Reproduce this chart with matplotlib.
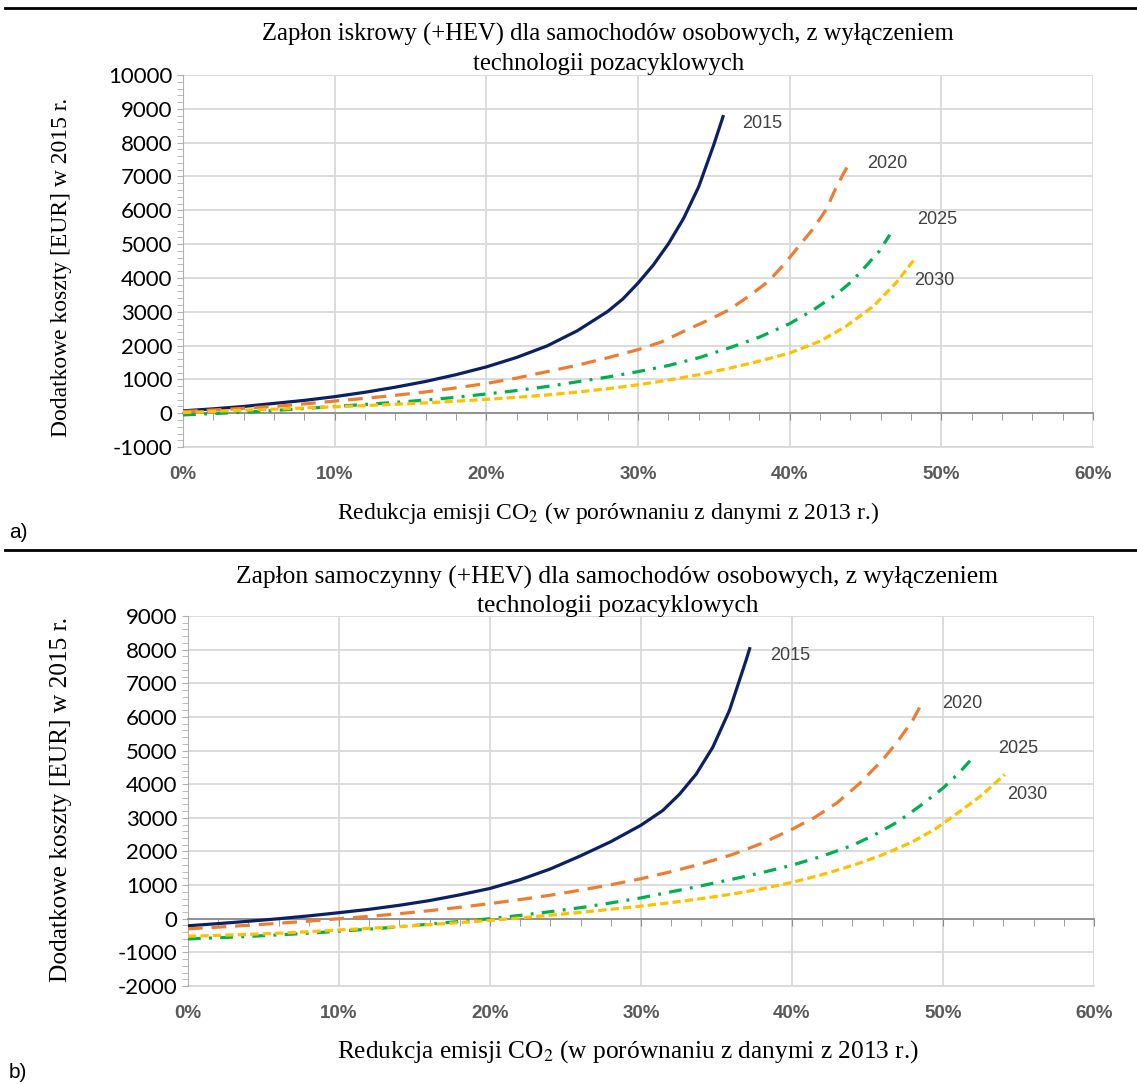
import matplotlib
matplotlib.use("Agg")
import matplotlib.pyplot as plt
from matplotlib.lines import Line2D
from matplotlib.ticker import MultipleLocator, FixedLocator, PercentFormatter

# --- DATEN ---
YEARS = ["2015", "2020", "2025", "2030"]

# a) Zapłon iskrowy
A_X_2015 = [0, 2, 4, 6, 8, 10, 12, 14, 16, 18, 20, 22, 24, 26, 28, 29, 30, 31, 32, 33, 34, 35, 35.6]
A_Y_2015 = [70, 130, 200, 290, 380, 490, 620, 770, 940, 1140, 1370, 1650, 1990, 2440, 3010, 3380,
            3850, 4380, 5010, 5760, 6700, 7950, 8770]
A_X_2020 = [0, 2, 4, 6, 8, 10, 12, 14, 16, 18, 20, 22, 24, 26, 28, 30, 31.5, 33, 34.9, 36, 37.3,
            38.6, 39.7, 40.6, 41.5, 42.4, 43.0, 43.5, 44.0]
A_Y_2020 = [50, 95, 145, 200, 275, 360, 440, 530, 630, 750, 880, 1040, 1230, 1420, 1640, 1880, 2100,
            2420, 2810, 3060, 3460, 3900, 4440, 4940, 5430, 6020, 6620, 7050, 7450]
A_X_2025 = [0, 2, 4, 6, 8, 10, 12, 14, 16, 18, 20, 22, 24, 26, 28, 30, 32, 34, 36, 38, 40, 41.5,
            43, 44.1, 45.1, 45.9, 46.6]
A_Y_2025 = [-50, -10, 30, 80, 140, 200, 260, 320, 390, 470, 570, 670, 790, 930, 1070, 1230, 1410,
            1640, 1930, 2250, 2650, 3040, 3490, 3900, 4390, 4790, 5280]
A_X_2030 = [0, 2, 4, 6, 8, 10, 12, 14, 16, 18, 20, 22, 24, 26, 28, 30, 32, 34, 36, 38, 40, 42,
            43.7, 45.5, 47, 48.2]
A_Y_2030 = [20, 55, 90, 120, 155, 190, 225, 265, 305, 355, 410, 470, 540, 625, 725, 840, 980, 1140,
            1330, 1540, 1780, 2130, 2570, 3160, 3850, 4540]
A_LABEL_X = [38.2, 46.4, 49.7, 49.5]
A_LABEL_Y = [8580, 7390, 5730, 3920]

# b) Zapłon samoczynny
B_X_2015 = [0, 2, 4, 6, 8, 10, 12, 14, 16, 18, 20, 22, 24, 26, 28, 30, 31.45, 32.55, 33.66,
            34.76, 35.86, 36.96, 37.2]
B_Y_2015 = [-210, -145, -75, 0, 85, 180, 280, 400, 540, 710, 900, 1160, 1480, 1870, 2290, 2780,
            3220, 3700, 4300, 5100, 6190, 7680, 8030]
B_X_2020 = [0, 2, 4, 6, 8, 10, 12, 14, 16, 18, 20, 22, 24, 26, 28, 30, 32, 34, 36, 38, 40, 41.5,
            43, 44.5, 46, 47, 48, 48.7]
B_Y_2020 = [-300, -250, -195, -135, -70, 0, 70, 150, 240, 340, 450, 570, 700, 850, 1010, 1190, 1400,
            1630, 1900, 2240, 2660, 3010, 3450, 4030, 4720, 5270, 5900, 6490]
B_X_2025 = [0, 2, 4, 6, 8, 10, 12, 14, 16, 18, 20, 22, 24, 26, 28, 30, 32, 34, 36, 38, 40, 42, 44,
            45.5, 47, 48.5, 50, 51.1, 52.1]
B_Y_2025 = [-600, -565, -525, -480, -430, -370, -310, -240, -160, -80, 0, 100, 210, 330, 470, 620,
            800, 980, 1170, 1370, 1590, 1860, 2180, 2500, 2880, 3360, 3880, 4350, 4850]
B_X_2030 = [0, 2, 4, 6, 8, 10, 12, 14, 16, 18, 20, 22, 24, 26, 28, 30, 32, 34, 36, 38, 40, 42, 44,
            46, 48, 49.5, 51, 52.5, 54.1]
B_Y_2030 = [-520, -495, -465, -430, -385, -335, -285, -235, -175, -115, -50, 25, 105, 190, 280, 375,
            480, 600, 730, 890, 1080, 1310, 1580, 1900, 2290, 2670, 3150, 3650, 4290]
B_LABEL_X = [39.9, 51.3, 55.0, 55.6]
B_LABEL_Y = [7830, 6400, 5060, 3690]

X_TICKS = [0, 10, 20, 30, 40, 50, 60]

TITLE_A = "Zapłon iskrowy (+HEV) dla samochodów osobowych, z wyłączeniem\ntechnologii pozacyklowych"
TITLE_B = "Zapłon samoczynny (+HEV) dla samochodów osobowych, z wyłączeniem\ntechnologii pozacyklowych"
XLABEL = "Redukcja emisji CO$_2$ (w porównaniu z danymi z 2013 r.)"
YLABEL = "Dodatkowe koszty [EUR] w 2015 r."

# --- STYLE ---
COLORS = ["#0b2163", "#ed7d31", "#00b050", "#ffc000"]
STYLES = ["-", (0, (4.6, 2.8)), (0, (4.0, 2.6, 0.9, 2.6)), (0, (2.6, 1.3))]
GRID_COLOR = "#d9d9d9"
SERIF = "Liberation Serif"
SANS = "Liberation Sans"
TICK_FONT = "Lato"

plt.rcParams["mathtext.fontset"] = "stix"
plt.rcParams["axes.unicode_minus"] = False


def draw_panel(fig, rect, xs, ys, lab_x, lab_y, ylim, title, title_pos, xlabel_pos, ylabel_pos,
               fsz_title, fsz_label):
    ax = fig.add_axes(rect)
    for x, y, c, ls in zip(xs, ys, COLORS, STYLES):
        ax.plot(x, y, color=c, linestyle=ls, linewidth=2.3, zorder=3)
    for x, y, yr in zip(lab_x, lab_y, YEARS):
        ax.text(x, y, yr, fontsize=13, color="#404040", family=SANS, ha="center", va="center")

    ax.set_xlim(0, 60)
    ax.set_ylim(*ylim)
    ax.xaxis.set_major_locator(FixedLocator(X_TICKS))
    ax.xaxis.set_minor_locator(MultipleLocator(2))
    ax.yaxis.set_major_locator(MultipleLocator(1000))
    ax.yaxis.set_minor_locator(MultipleLocator(200))
    ax.grid(True, which="major", color=GRID_COLOR, linewidth=1.3, zorder=0)
    ax.yaxis.get_gridlines()[-1].set_visible(False)

    for s in ["top", "right"]:
        ax.spines[s].set_visible(False)
    ax.spines["left"].set_color("#b0b0b0")
    ax.spines["bottom"].set_position(("data", 0))
    ax.spines["bottom"].set_color("#8c8c8c")
    ax.spines["bottom"].set_linewidth(1.3)
    ax.tick_params(axis="x", which="both", direction="out", length=5, color="#8c8c8c",
                   labelbottom=False)
    ax.tick_params(axis="y", which="both", direction="out", length=4, color="#b0b0b0", labelsize=16)
    for t in ax.get_yticklabels():
        t.set_family(TICK_FONT)

    # Prozent-Beschriftung am unteren Rand
    sec = ax.secondary_xaxis("bottom")
    sec.xaxis.set_major_locator(FixedLocator(X_TICKS))
    sec.xaxis.set_major_formatter(PercentFormatter(decimals=0))
    sec.tick_params(length=0, pad=14, labelsize=13.5, labelcolor="#595959")
    sec.spines["bottom"].set_color(GRID_COLOR)
    sec.spines["bottom"].set_linewidth(1.3)
    for t in sec.get_xticklabels():
        t.set_fontweight("bold")
        t.set_family(SANS)

    fig.text(title_pos[0], title_pos[1], title, ha="center", va="center", family=SERIF,
             fontsize=fsz_title, linespacing=1.4)
    fig.text(xlabel_pos[0], xlabel_pos[1], XLABEL, ha="center", va="center", family=SERIF,
             fontsize=fsz_label)
    fig.text(ylabel_pos[0], ylabel_pos[1], YLABEL, ha="center", va="center", family=SERIF,
             fontsize=fsz_label, rotation=90)
    return ax


def main():
    fig = plt.figure(figsize=(11.37, 10.84), dpi=100)

    draw_panel(fig, [0.1610, 0.5876, 0.8004, 0.3432],
               [A_X_2015, A_X_2020, A_X_2025, A_X_2030],
               [A_Y_2015, A_Y_2020, A_Y_2025, A_Y_2030],
               A_LABEL_X, A_LABEL_Y, (-1000, 10000), TITLE_A,
               (0.535, 0.955), (0.535, 0.527), (0.054, 0.753), 17.7, 17)
    draw_panel(fig, [0.1653, 0.0904, 0.7968, 0.3413],
               [B_X_2015, B_X_2020, B_X_2025, B_X_2030],
               [B_Y_2015, B_Y_2020, B_Y_2025, B_Y_2030],
               B_LABEL_X, B_LABEL_Y, (-2000, 9000), TITLE_B,
               (0.543, 0.4543), (0.552, 0.0295), (0.054, 0.262), 18.4, 18.3)

    # Trennlinien und Teilbezeichnungen
    for yy in [0.9926, 0.4926]:
        fig.add_artist(Line2D([0.004, 1.0], [yy, yy], color="black", linewidth=2.0,
                              transform=fig.transFigure))
    fig.text(0.008, 0.509, "a)", family=SANS, fontsize=15, va="center")
    fig.text(0.008, 0.011, "b)", family=SANS, fontsize=15, va="center")

    fig.savefig("out.png", dpi=100)
    plt.close(fig)


if __name__ == "__main__":
    main()
